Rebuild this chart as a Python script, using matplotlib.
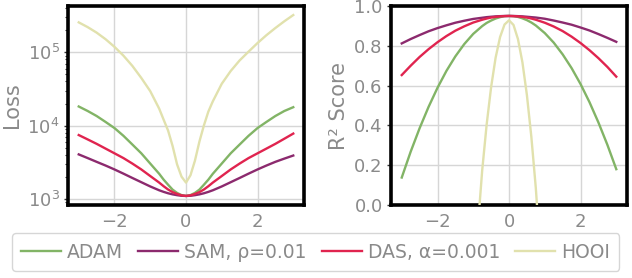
import matplotlib
matplotlib.use("Agg")
import matplotlib.pyplot as plt

# ---- data ----
x = [-3, -2.75, -2.5, -2.25, -2, -1.75, -1.5, -1.25, -1, -0.75, -0.625, -0.5, -0.375, -0.25, -0.125,
     0, 0.125, 0.25, 0.375, 0.5, 0.625, 0.75, 1, 1.25, 1.5, 1.75, 2, 2.25, 2.5, 2.75, 3]

loss_adam = [18200, 15800, 13500, 11200, 9230, 7240, 5500, 4170, 3020, 2190, 1820, 1550, 1330, 1200, 1120,
             1090, 1120, 1200, 1330, 1550, 1820, 2190, 3020, 4170, 5500, 7240, 9230, 11200, 13500, 15800, 17800]
loss_sam = [4030, 3590, 3190, 2840, 2510, 2200, 1920, 1680, 1470, 1303, 1239, 1186, 1146, 1117, 1096,
            1090, 1096, 1117, 1146, 1186, 1239, 1303, 1470, 1680, 1920, 2200, 2510, 2840, 3190, 3530, 3890]
loss_das = [7410, 6460, 5620, 4840, 4170, 3590, 3020, 2510, 2040, 1660, 1480, 1334, 1230, 1161, 1109,
            1090, 1109, 1161, 1230, 1334, 1480, 1660, 2040, 2510, 3020, 3590, 4170, 4840, 5620, 6600, 7760]
loss_hooi = [257000, 221300, 186200, 151400, 118900, 90200, 65300, 44700, 29500, 17000, 12000, 8510, 5250, 2950, 2000,
             1660, 2090, 3310, 6030, 10000, 15500, 21400, 37200, 55600, 77600, 102300, 134000, 171800, 215300, 266100, 323600]

r2_adam = [0.138, 0.268, 0.386, 0.493, 0.589, 0.674, 0.747, 0.809, 0.860, 0.899, 0.915, 0.927, 0.937, 0.944, 0.949,
           0.950, 0.949, 0.945, 0.938, 0.929, 0.917, 0.902, 0.864, 0.816, 0.757, 0.688, 0.608, 0.517, 0.415, 0.303, 0.180]
r2_sam = [0.812, 0.834, 0.854, 0.873, 0.889, 0.903, 0.916, 0.926, 0.935, 0.941, 0.944, 0.946, 0.948, 0.949, 0.950,
          0.950, 0.950, 0.949, 0.948, 0.946, 0.944, 0.942, 0.936, 0.927, 0.917, 0.906, 0.892, 0.877, 0.859, 0.840, 0.820]
r2_das = [0.653, 0.700, 0.744, 0.783, 0.818, 0.849, 0.876, 0.898, 0.917, 0.931, 0.937, 0.942, 0.945, 0.948, 0.949,
          0.950, 0.949, 0.948, 0.945, 0.942, 0.937, 0.931, 0.916, 0.897, 0.874, 0.846, 0.814, 0.778, 0.738, 0.694, 0.645]
r2_hooi = [-11.1, -9.2, -7.4, -5.9, -4.4, -3.2, -2.09, -1.17, -0.41, 0.174, 0.405, 0.593, 0.740, 0.844, 0.907,
           0.928, 0.905, 0.834, 0.717, 0.553, 0.342, 0.084, -0.57, -1.42, -2.45, -3.67, -5.07, -6.67, -8.45, -10.4, -12.6]

labels = ["ADAM", "SAM, ρ=0.01", "DAS, α=0.001", "HOOI"]
colors = ["#82b466", "#8c2a6e", "#e0244f", "#e1e1ad"]
r2_ticks = [0.0, 0.2, 0.4, 0.6, 0.8, 1.0]

plt.rcParams['font.family'] = ['DejaVu Sans']
gray = "#8a8a8a"

fig = plt.figure(figsize=(6.32, 2.78), dpi=100)
ax1 = fig.add_axes([0.1076, 0.2626, 0.3734, 0.7158])
ax2 = fig.add_axes([0.6187, 0.2626, 0.3734, 0.7158])

loss_series = [loss_adam, loss_sam, loss_das, loss_hooi]
r2_series = [r2_adam, r2_sam, r2_das, r2_hooi]
handles = [None] * 4
for i in [0, 1, 2, 3]:
    h, = ax1.plot(x, loss_series[i], color=colors[i], lw=1.7, label=labels[i], zorder=3,
                  solid_joinstyle='round')
    handles[i] = h
    ax2.plot(x, r2_series[i], color=colors[i], lw=1.7, zorder=3, solid_joinstyle='round')

ax1.set_yscale('log')
ax1.set_ylabel("Loss", fontsize=15, color=gray)
ax2.set_ylabel("R² Score", fontsize=15, color=gray)
ax2.set_ylim(0, 1.0)
ax2.set_yticks(r2_ticks)
ax2.set_xlim(ax1.get_xlim())

for ax in (ax1, ax2):
    ax.set_facecolor("white")
    ax.grid(True, which='major', color="#d6d6d6", lw=1.0, zorder=0)
    ax.set_axisbelow(True)
    for s in ax.spines.values():
        s.set_color("black")
        s.set_linewidth(2.6)
    ax.tick_params(axis='both', which='major', labelsize=13, labelcolor=gray)
    ax.tick_params(axis='x', which='both', length=0, pad=6)
    ax.tick_params(axis='y', which='major', length=3, width=1, color="#333333", pad=3)
    ax.tick_params(axis='y', which='minor', length=2, width=0.8, color="#333333")
    ax.set_xticks([-2, 0, 2])
    ax.set_xticklabels(["\u22122", "0", "2"])

leg = fig.legend(handles=handles, labels=labels, loc='lower left', ncol=4,
                 bbox_to_anchor=(0.019, 0.025), borderaxespad=0.0, fontsize=13.5, frameon=True,
                 handlelength=2.13, columnspacing=0.8, handletextpad=0.32,
                 borderpad=0.5, fancybox=True)
for t in leg.get_texts():
    t.set_color(gray)
leg.get_frame().set_edgecolor("#cccccc")

fig.savefig("out.png", dpi=100)
